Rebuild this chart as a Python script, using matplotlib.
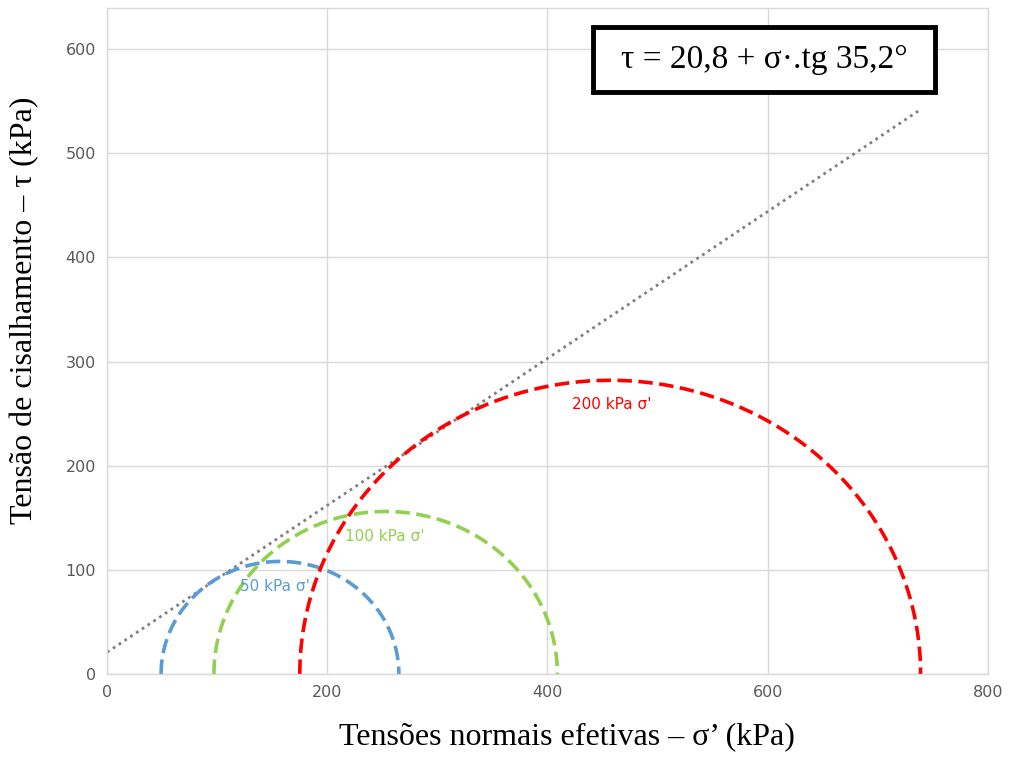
import numpy as np
import matplotlib.pyplot as plt
from matplotlib.patches import Rectangle

# Mohr circles (left and right ends on the sigma axis, kPa)
circle_names = ["50 kPa σ'", "100 kPa σ'", "200 kPa σ'"]
sigma_left = [49, 97, 175]
sigma_right = [265, 409, 739]
circle_colors = ['#5B9BD5', '#92D050', '#FF0000']
label_x = [152, 252, 458]
label_y = [84, 132, 259]

# failure envelope
c_coh = 20.8
phi_deg = 35.2
env_x = [0, 740]

xticks = [0, 200, 400, 600, 800]
yticks = [0, 100, 200, 300, 400, 500, 600]

fig = plt.figure(figsize=(10.11, 7.58), dpi=100)
ax = fig.add_axes([0.106, 0.111, 0.871, 0.879])

grid_c = '#d9d9d9'
for t in xticks:
    ax.axvline(t, color=grid_c, lw=1, zorder=0)
for t in yticks:
    ax.axhline(t, color=grid_c, lw=1, zorder=0)

ex = np.array(env_x)
ax.plot(ex, c_coh + ex * np.tan(np.radians(phi_deg)), color='#808080',
        lw=2, linestyle=(0, (1, 1.5)), zorder=2)

th = np.linspace(np.pi, 0, 400)
for name, a, b, col, lx, ly in zip(circle_names, sigma_left, sigma_right,
                                    circle_colors, label_x, label_y):
    cen = (a + b) / 2
    r = (b - a) / 2
    ax.plot(cen + r * np.cos(th), r * np.sin(th), color=col, lw=2.6,
            linestyle=(0, (4, 1.8)), zorder=3)
    ax.text(lx, ly, name, color=col, fontsize=11, ha='center', va='center',
            family='DejaVu Sans', zorder=4)

ax.set_xlim(0, 800)
ax.set_ylim(0, 640)
ax.set_xticks(xticks)
ax.set_yticks(yticks)
ax.tick_params(length=0, labelsize=11.5, labelcolor='#595959', pad=8)
for s in ax.spines.values():
    s.set_color(grid_c)
    s.set_linewidth(1)

ax.set_xlabel('Tensões normais efetivas – σ’ (kPa)', family='Liberation Serif',
              fontsize=23)
ax.set_ylabel('Tensão de cisalhamento – τ (kPa)', family='Liberation Serif',
              fontsize=23)
ax.xaxis.set_label_coords(0.522, -0.072)
ax.yaxis.set_label_coords(-0.077, 0.546)

# equation box
ax.add_patch(Rectangle((0.552, 0.873), 0.388, 0.098, transform=ax.transAxes,
                       facecolor='white', edgecolor='black', lw=3.5, zorder=5))
ax.text(0.746, 0.922, 'τ = 20,8 + σ·.tg 35,2°', transform=ax.transAxes,
        family='Liberation Serif', fontsize=24, ha='center', va='center', zorder=6)

fig.savefig('out.png', dpi=100)
